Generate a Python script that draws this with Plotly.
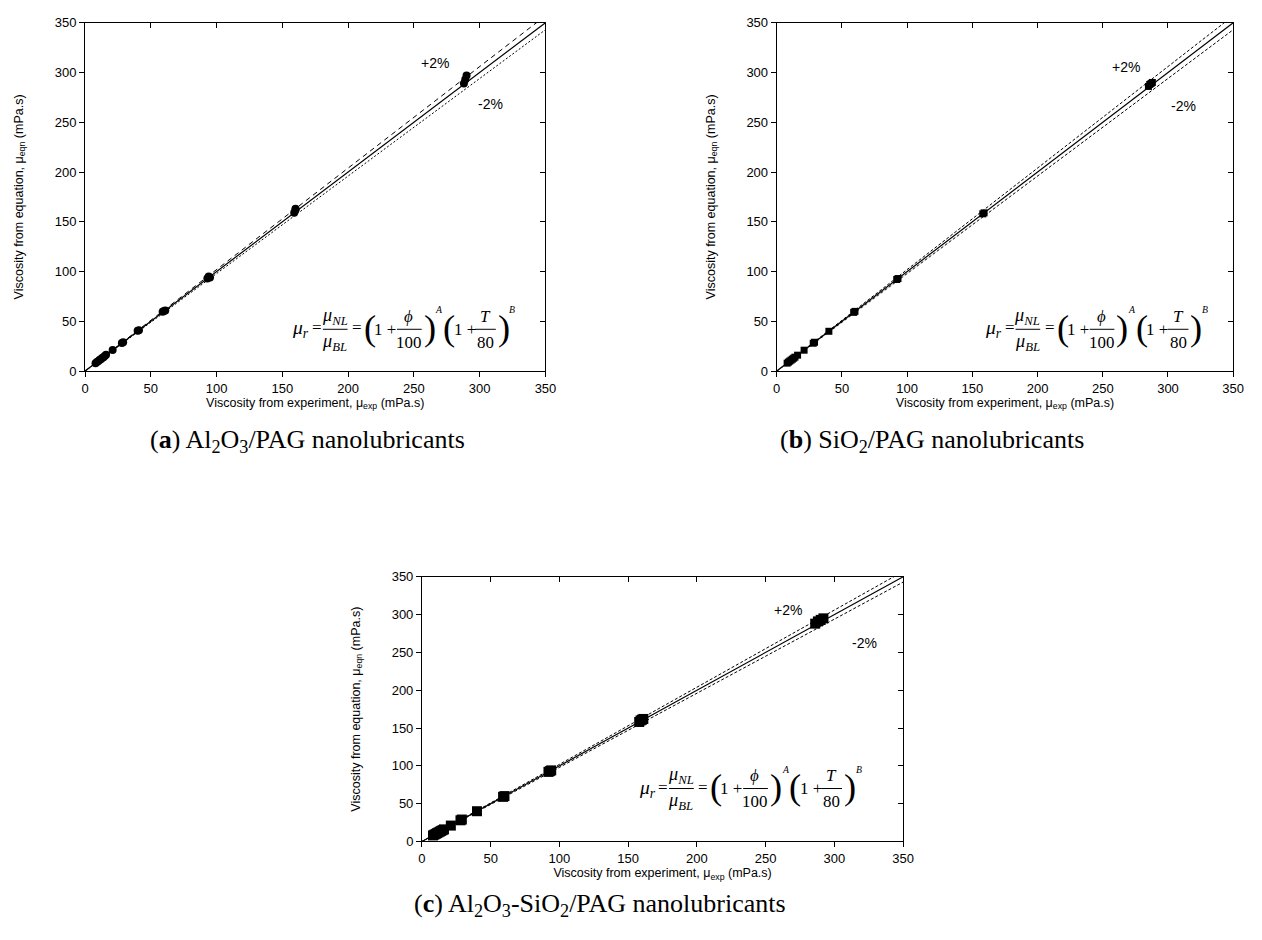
import plotly.graph_objects as go

# ---------------- data ----------------
# (a) Al2O3/PAG
a_exp = [8, 9, 10, 11, 12, 13, 14, 15, 16, 21, 28, 29, 40, 41, 59, 60, 61, 93, 94, 95, 159, 160, 160, 288, 289, 290]
a_eqn = [8, 9.1, 10, 11.1, 12, 13.2, 14, 15.2, 16.3, 21.2, 28.2, 29, 40.5, 41, 59.5, 60.5, 61, 93, 95, 94, 159, 162, 163, 289, 293, 297]
# (b) SiO2/PAG
b_exp = [8, 9, 10, 11, 12, 13, 14, 16, 21, 28, 29, 40, 59, 60, 92, 93, 158, 159, 285, 286, 287, 288]
b_eqn = [8, 9, 10, 11, 12, 13, 14, 16, 21, 28, 29, 40, 59, 60, 92, 93, 158, 159, 286, 288, 289, 290]
# (c) Al2O3-SiO2/PAG
c_exp = [8, 9, 10, 11, 12, 13, 14, 15, 16, 21, 28, 29, 40, 59, 60, 92, 93, 94, 158, 159, 160, 161, 286, 288, 290, 292]
c_eqn = [8, 9, 10, 11, 12, 13, 14, 15, 16, 21, 28, 29, 40, 59, 60, 92, 93, 94, 158, 160, 161, 162, 288, 291, 293, 295]

# reference lines: perfect agreement and +/-2 % bands
ref_x = [0, 350]
ref_y = [0, 350]
plus_y = [0, 357]
minus_y = [0, 343]

tick_vals = [0, 50, 100, 150, 200, 250, 300, 350]
axis_range = [0, 350]

W, H = 1262, 940

# panel geometry in pixels (left, right, top, bottom)
panels = {
    "a": dict(l=82, r=548, t=16, b=370),
    "b": dict(l=782, r=1244, t=16, b=370),
    "c": dict(l=423, r=910, t=579, b=848),
}

fig = go.Figure()

LINE_FONT = "Liberation Sans, Arial, sans-serif"
SERIF = "Liberation Serif, Times New Roman, serif"


def add_panel(idx, xs, ys, marker_symbol, marker_size, plus_dash, minus_dash):
    xa = "x" if idx == 1 else f"x{idx}"
    ya = "y" if idx == 1 else f"y{idx}"
    fig.add_trace(go.Scatter(x=ref_x, y=ref_y, mode="lines", xaxis=xa, yaxis=ya,
                             line=dict(color="black", width=1.2), showlegend=False, hoverinfo="skip"))
    fig.add_trace(go.Scatter(x=ref_x, y=plus_y, mode="lines", xaxis=xa, yaxis=ya,
                             line=dict(color="black", width=1, dash=plus_dash), showlegend=False, hoverinfo="skip"))
    fig.add_trace(go.Scatter(x=ref_x, y=minus_y, mode="lines", xaxis=xa, yaxis=ya,
                             line=dict(color="black", width=1, dash=minus_dash), showlegend=False, hoverinfo="skip"))
    fig.add_trace(go.Scatter(x=xs, y=ys, mode="markers", xaxis=xa, yaxis=ya,
                             marker=dict(symbol=marker_symbol, size=marker_size, color="black",
                                         line=dict(width=0)),
                             showlegend=False, cliponaxis=False))
    # overlay axes for inward ticks on top / right
    fig.add_trace(go.Scatter(x=[None], y=[None], xaxis=f"x{idx + 3}", yaxis=f"y{idx + 3}",
                             showlegend=False, hoverinfo="skip"))


add_panel(1, a_exp, a_eqn, "circle", 8, "5px,4px", "2px,2px")
add_panel(2, b_exp, b_eqn, "square", 7, "3px,2px", "3px,2px")
add_panel(3, c_exp, c_eqn, "square", 10, "3px,2px", "3px,2px")

layout = dict(width=W, height=H, autosize=False, margin=dict(l=0, r=0, t=0, b=0),
              plot_bgcolor="white", paper_bgcolor="white",
              font=dict(family=LINE_FONT, size=12, color="black"))

xtitle = "Viscosity from experiment, μ<sub>exp</sub> (mPa.s)"
ytitle = "Viscosity from equation, μ<sub>eqn</sub> (mPa.s)"

for i, key in enumerate(["a", "b", "c"], start=1):
    p = panels[key]
    xd = [p["l"] / W, p["r"] / W]
    yd = [1 - p["b"] / H, 1 - p["t"] / H]
    xa = "x" if i == 1 else f"x{i}"
    ya = "y" if i == 1 else f"y{i}"
    xn = "xaxis" if i == 1 else f"xaxis{i}"
    yn = "yaxis" if i == 1 else f"yaxis{i}"
    common = dict(range=axis_range, tickvals=tick_vals, showgrid=False, zeroline=False,
                  showline=True, linecolor="black", linewidth=1, ticklen=5, tickwidth=1,
                  tickcolor="black")
    layout[xn] = dict(domain=xd, anchor=ya, ticks="outside", tickfont=dict(size=13, family=LINE_FONT),
                      title=dict(text=xtitle, font=dict(size=12.5), standoff=0), **common)
    layout[yn] = dict(domain=yd, anchor=xa, ticks="outside", tickfont=dict(size=13, family=LINE_FONT),
                      title=dict(text=ytitle, font=dict(size=12.5), standoff=28), **common)
    layout[f"xaxis{i + 3}"] = dict(overlaying=xa, anchor=ya, side="top", ticks="inside",
                                   showticklabels=False, **common)
    layout[f"yaxis{i + 3}"] = dict(overlaying=ya, anchor=xa, side="right", ticks="inside",
                                   showticklabels=False, **common)

fig.update_layout(**layout)

# +/-2 % labels
pm_labels = {
    1: ((266, 310), (308, 268)),
    2: ((268, 306), (312, 266)),
    3: ((266, 306), (322, 263)),
}
for i, ((px_, py_), (mx_, my_)) in pm_labels.items():
    xa = "x" if i == 1 else f"x{i}"
    ya = "y" if i == 1 else f"y{i}"
    fig.add_annotation(x=px_, y=py_, xref=xa, yref=ya, text="+2%", showarrow=False,
                       font=dict(size=14, family=LINE_FONT))
    fig.add_annotation(x=mx_, y=my_, xref=xa, yref=ya, text="-2%", showarrow=False,
                       font=dict(size=14, family=LINE_FONT))


# equation  mu_r = mu_NL/mu_BL = (1 + phi/100)^A (1 + T/80)^B
def add_equation(i, ax, ay, s=1.3):
    xr = "x domain" if i == 1 else f"x{i} domain"
    yr = "y domain" if i == 1 else f"y{i} domain"

    def txt(t, dx, dy, size=15, anchor="left"):
        fig.add_annotation(x=ax, y=ay, xref=xr, yref=yr, text=t, showarrow=False,
                           xanchor=anchor, yanchor="middle", xshift=dx * s, yshift=dy * s,
                           font=dict(family=SERIF, size=size * s, color="black"))

    def bar(x0, x1):
        fig.add_shape(type="line", xref=xr, yref=yr, xsizemode="pixel", ysizemode="pixel",
                      xanchor=ax, yanchor=ay, x0=x0 * s, x1=x1 * s, y0=0, y1=0,
                      line=dict(color="black", width=1))

    txt("<i>μ<sub>r</sub></i>", 0, 0, 15)
    txt("=", 15, 1, 13)
    txt("<i>μ<sub>NL</sub></i>", 34, 10, 14, "center")
    bar(25, 44)
    txt("<i>μ<sub>BL</sub></i>", 34, -10, 14, "center")
    txt("=", 46, 1, 13)
    txt("(", 55, 1, 28)
    txt("1 +", 63, 0, 13)
    txt("<i>ϕ</i>", 91, 10, 13, "center")
    bar(82, 101)
    txt("100", 91, -10, 13, "center")
    txt(")", 101, 1, 28)
    txt("<i>A</i>", 110, 15, 7.5)
    txt("(", 116, 1, 28)
    txt("1 +", 124, 0, 13)
    txt("<i>T</i>", 150, 10, 13, "center")
    bar(142, 158)
    txt("80", 150, -10, 13, "center")
    txt(")", 158, 1, 28)
    txt("<i>B</i>", 167, 15, 7.5)


add_equation(1, 0.446, 0.12)
add_equation(2, 0.452, 0.12)
add_equation(3, 0.446, 0.20)

# captions
captions = [
    ("(<b>a</b>) Al<sub>2</sub>O<sub>3</sub>/PAG nanolubricants", 146, 441),
    ("(<b>b</b>) SiO<sub>2</sub>/PAG nanolubricants", 783, 441),
    ("(<b>c</b>) Al<sub>2</sub>O<sub>3</sub>-SiO<sub>2</sub>/PAG nanolubricants", 413, 913),
]
for text, px_, py_ in captions:
    fig.add_annotation(x=px_ / W, y=1 - py_ / H, xref="paper", yref="paper", text=text,
                       showarrow=False, xanchor="left", yanchor="middle",
                       font=dict(family=SERIF, size=26, color="black"))

fig.write_html("out.html")
